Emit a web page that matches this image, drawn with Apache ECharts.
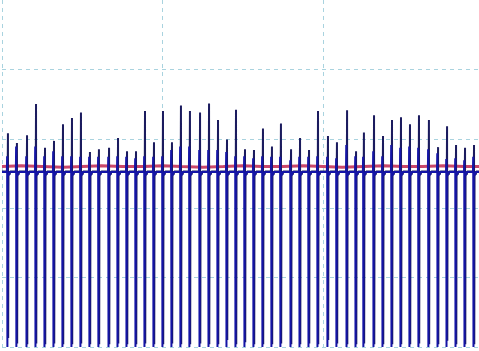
<!DOCTYPE html>
<html>
<head>
<meta charset="utf-8">
<script src="https://cdn.jsdelivr.net/npm/echarts@6/dist/echarts.min.js"></script>
<style>html,body{margin:0;padding:0;background:#fff;}#c{width:479px;height:351px;}</style>
</head>
<body>
<div id="c"></div>
<script>
// Beat times (x-axis units)
var beatTimes = [0.037,0.093,0.156,0.212,0.268,0.324,0.380,0.436,0.492,0.548,0.604,0.667,0.723,0.779,0.835,0.891,0.947,
  1.003,1.059,1.115,1.171,1.234,1.290,1.346,1.402,1.458,1.514,1.570,1.626,1.682,1.738,1.801,1.857,1.913,1.969,
  2.031,2.087,2.150,2.206,2.255,2.318,2.374,2.430,2.486,2.542,2.598,2.660,2.717,2.773,2.829,2.885,2.941];
// Peak values of the dark trace
var navyPeaks = [3.08,2.94,3.05,3.50,2.87,2.97,3.21,3.30,3.38,2.81,2.85,2.87,3.01,2.82,2.82,3.40,2.95,
  3.40,2.95,3.48,3.40,3.38,3.51,3.27,2.99,3.42,2.85,2.84,3.15,2.89,3.22,2.85,3.01,2.84,3.40,
  3.04,2.95,3.41,2.82,3.09,3.34,3.04,3.27,3.31,3.21,3.34,3.27,2.88,3.18,2.91,2.87,2.91];
// Peak values of the blue trace
var bluePeaks = [2.75,2.89,2.75,2.89,2.75,2.82,2.75,2.75,2.74,2.74,2.74,2.74,2.75,2.74,2.72,2.75,2.74,
  2.75,2.84,2.89,2.89,2.84,2.84,2.84,2.81,2.75,2.75,2.72,2.75,2.74,2.74,2.69,2.74,2.74,2.75,
  2.74,2.72,2.91,2.75,2.74,2.82,2.75,2.91,2.87,2.89,2.87,2.85,2.79,2.71,2.72,2.69,2.74];
// Trough values
var navyTroughs = [0.13,0.05,0.04,0.05,0.04,0.05,0.04,0.04,0.05,0.04,0.04,0.04,0.05,0.04,0.04,0.05,0.04,
  0.04,0.05,0.04,0.04,0.05,0.04,0.04,0.10,0.04,0.07,0.04,0.04,0.04,0.05,0.04,0.04,0.05,0.04,
  0.10,0.05,0.04,0.04,0.05,0.04,0.04,0.04,0.04,0.04,0.05,0.04,0.04,0.09,0.04,0.04,0.04];
var blueTroughs = 0.0;
var navyBase = 2.53;
var blueBase = 2.52;
// Reference (red) trace samples
var redTimes = [0,0.12,0.25,0.38,0.5,0.62,0.75,0.88,1,1.12,1.25,1.38,1.5,1.62,1.75,1.88,2,2.12,2.25,2.38,2.5,2.62,2.75,2.88,2.972];
var redValues = [2.60,2.61,2.60,2.59,2.60,2.61,2.60,2.60,2.61,2.60,2.59,2.60,2.61,2.60,2.60,2.61,2.60,2.59,2.60,2.61,2.60,2.60,2.61,2.60,2.60];

var W = 0.0016;
function trace(times, peaks, troughs, base, shift) {
  var d = [[0, base]];
  for (var i = 0; i < times.length; i++) {
    var t = times[i] + shift;
    var tr = Array.isArray(troughs) ? troughs[i] : troughs;
    d.push([t - W, base]);
    d.push([t, peaks[i]]);
    d.push([t + W, tr]);
    d.push([t + 2 * W, base]);
    d.push([t + 6 * W, base - 0.05]);
    d.push([t + 9 * W, base]);
  }
  d.push([2.972, base]);
  return d;
}
var redData = redTimes.map(function (t, i) { return [t, redValues[i]]; });

var chart = echarts.init(document.getElementById('c'));
chart.setOption({
  animation: false,
  backgroundColor: '#ffffff',
  grid: { left: 2, right: 0, top: -2, bottom: 4, containLabel: false },
  xAxis: {
    type: 'value', min: 0, max: 2.972, interval: 1,
    axisLine: { show: false }, axisTick: { show: false }, axisLabel: { show: false },
    splitLine: { show: true, showMaxLine: false, lineStyle: { color: '#a9d3df', type: [4, 4], width: 1 } }
  },
  yAxis: {
    type: 'value', min: 0, max: 5, interval: 1,
    axisLine: { show: false }, axisTick: { show: false }, axisLabel: { show: false },
    splitLine: { show: true, showMaxLine: false, lineStyle: { color: '#a9d3df', type: [4, 4], width: 1 } }
  },
  series: [
    { type: 'line', data: redData, showSymbol: false, symbol: 'none', z: 1,
      lineStyle: { color: '#c9476a', width: 3 } },
    { type: 'line', data: trace(beatTimes, navyPeaks, navyTroughs, navyBase, 0), showSymbol: false, symbol: 'none', z: 2,
      lineStyle: { color: '#1b1b5e', width: 2 } },
    { type: 'line', data: trace(beatTimes, bluePeaks, blueTroughs, blueBase, -0.005), showSymbol: false, symbol: 'none', z: 3,
      lineStyle: { color: '#1414a6', width: 2 } }
  ]
});
</script>
</body>
</html>
